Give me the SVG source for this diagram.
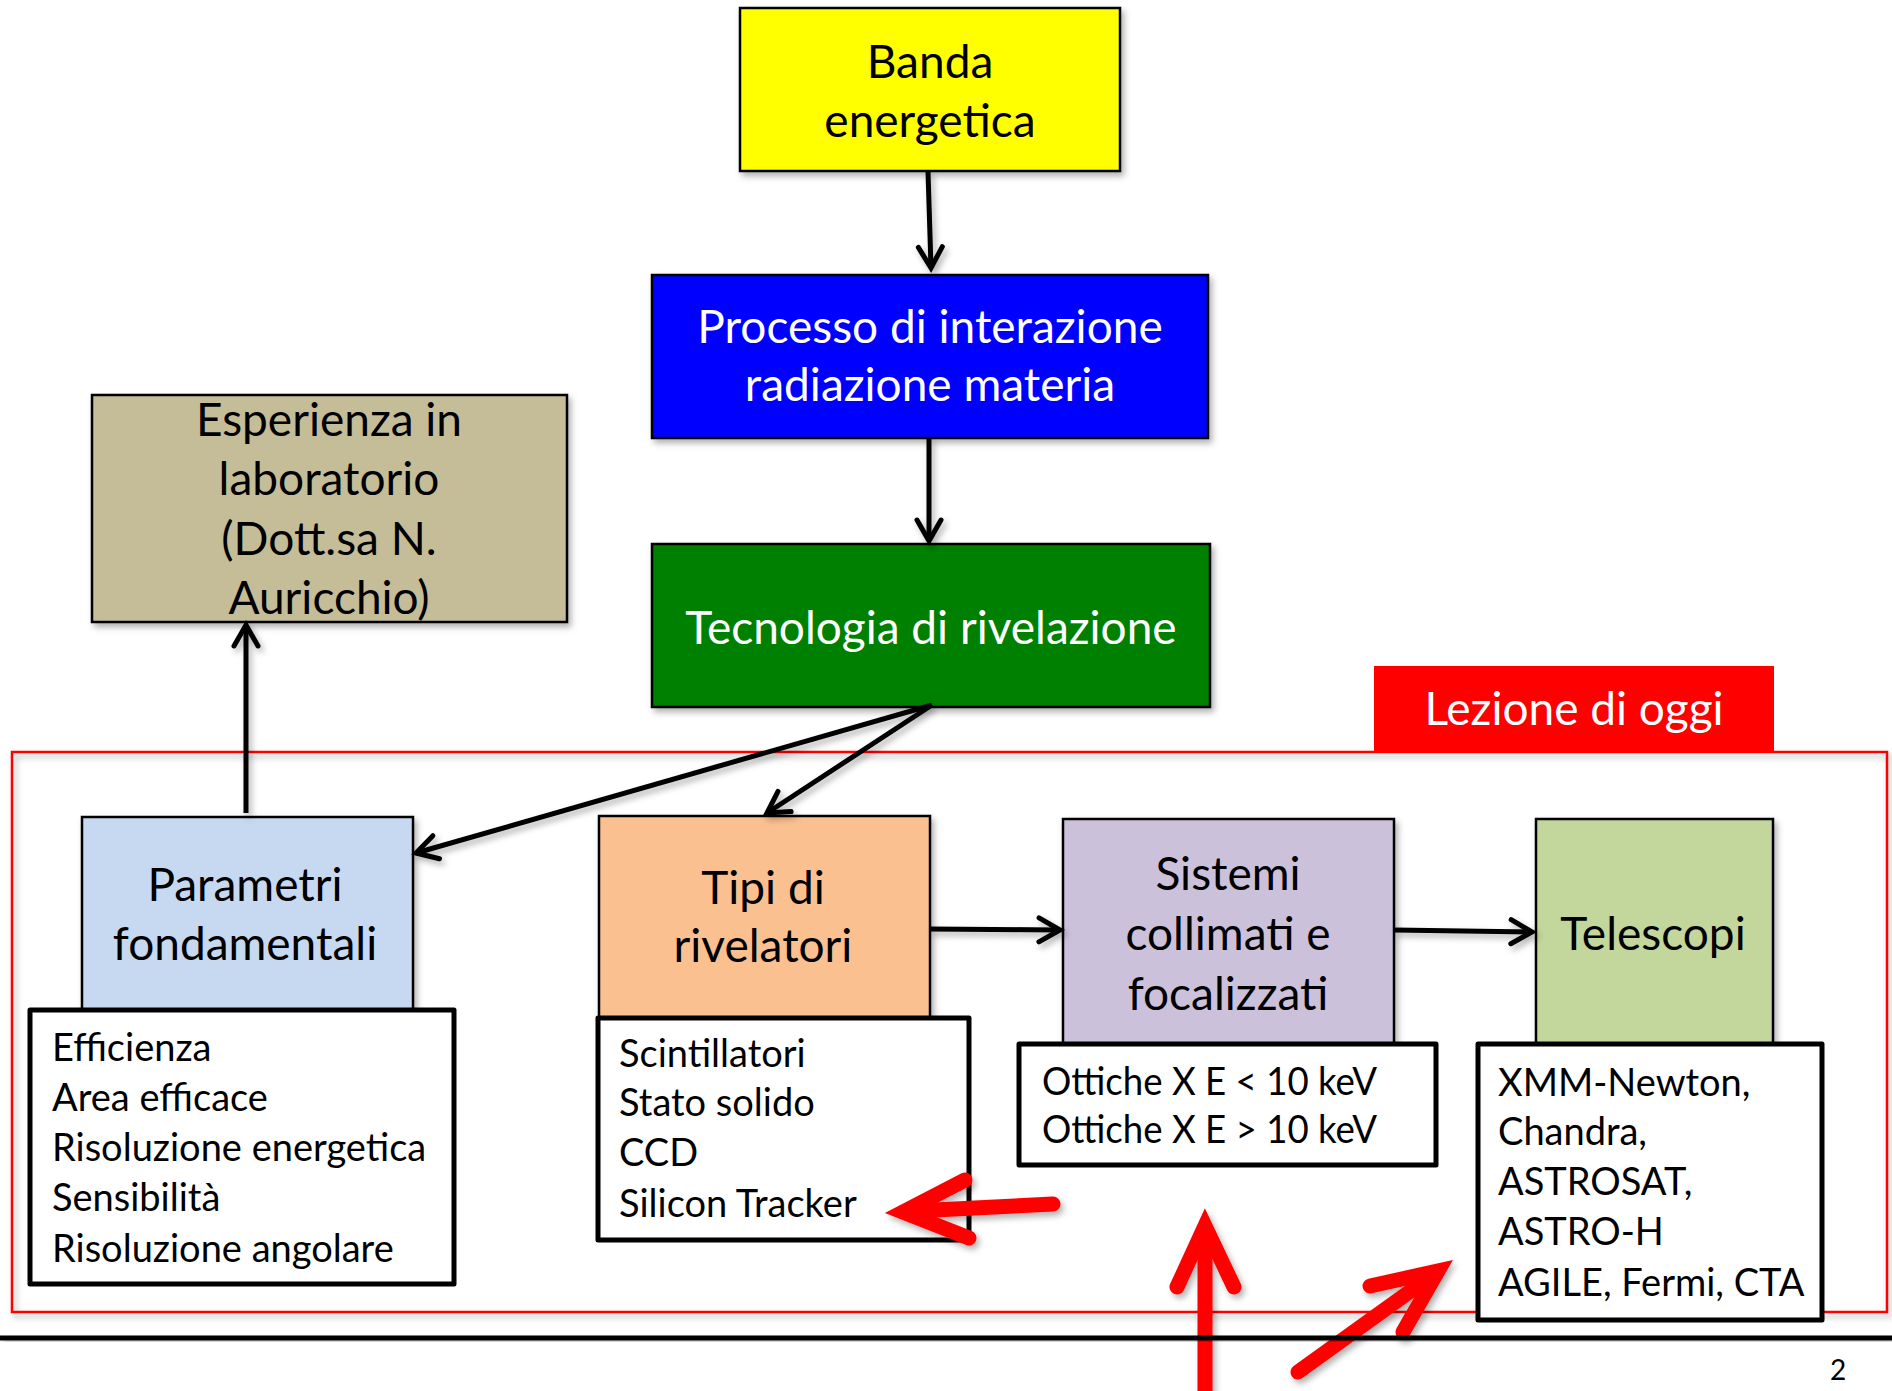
<svg xmlns="http://www.w3.org/2000/svg" width="1892" height="1391" viewBox="0 0 1892 1391">
  <style>
    .box { stroke: #000; stroke-width: 2.5; }
    .list { fill: #fff; stroke: #000; stroke-width: 5; stroke-linejoin: round; }
    .t { font-family: Lato, "Open Sans", "Liberation Sans", sans-serif; font-size: 46px; text-anchor: middle; fill: #000; }
    .w { fill: #fff; }
    .l { font-family: Lato, "Open Sans", "Liberation Sans", sans-serif; font-size: 38px; fill: #000; }
    .conn { fill: none; stroke: #000; stroke-width: 5; marker-end: url(#ah); }
    .red { fill: none; stroke: #ff0000; stroke-width: 15; stroke-linecap: round; stroke-linejoin: miter; }
  </style>
  <defs>
    <filter id="sh" x="-10%" y="-10%" width="130%" height="130%">
      <feDropShadow dx="3" dy="4" stdDeviation="3" flood-color="#000" flood-opacity="0.3"/>
    </filter>
    <marker id="ah" markerUnits="userSpaceOnUse" viewBox="-30 -20 40 40" markerWidth="40" markerHeight="40" refX="0" refY="0" orient="auto" overflow="visible">
      <path d="M-21,-12 L0,0 L-21,12" fill="none" stroke="#000" stroke-width="5" stroke-linecap="round" stroke-linejoin="miter"/>
    </marker>
  </defs>
  <rect width="1892" height="1391" fill="#fff"/>

  <!-- Lezione di oggi frame -->
  <g id="lezione-di-oggi">
    <rect x="12" y="752" width="1875" height="560" fill="none" stroke="#ff0000" stroke-width="2.5" filter="url(#sh)"/>
    <rect x="1374" y="666" width="400" height="87" fill="#ff0000"/>
    <text class="t w" x="1574" y="725">Lezione di oggi</text>
  </g>

  <g id="banda-energetica">
    <rect class="box" x="740" y="8" width="380" height="163" fill="#ffff00" filter="url(#sh)"/>
    <text class="t" x="930" y="78">Banda</text>
    <text class="t" x="930" y="137">energetica</text>
  </g>

  <g id="processo-interazione">
    <rect class="box" x="652" y="275" width="556" height="163" fill="#0000ff" filter="url(#sh)"/>
    <text class="t w" x="930" y="343">Processo di interazione</text>
    <text class="t w" x="930" y="401">radiazione materia</text>
  </g>

  <g id="tecnologia-rivelazione">
    <rect class="box" x="652" y="544" width="558" height="163" fill="#008000" filter="url(#sh)"/>
    <text class="t w" x="931" y="644">Tecnologia di rivelazione</text>
  </g>

  <g id="esperienza-laboratorio">
    <rect class="box" x="92" y="395" width="475" height="227" fill="#c4bd97" filter="url(#sh)"/>
    <text class="t" x="329" y="436">Esperienza in</text>
    <text class="t" x="329" y="495">laboratorio</text>
    <text class="t" x="329" y="555">(Dott.sa N.</text>
    <text class="t" x="329" y="614">Auricchio)</text>
  </g>

  <g id="parametri-fondamentali">
    <rect class="box" x="82" y="817" width="331" height="200" fill="#c6d9f1" filter="url(#sh)"/>
    <text class="t" x="245" y="901">Parametri</text>
    <text class="t" x="245" y="960">fondamentali</text>
  </g>

  <g id="tipi-rivelatori">
    <rect class="box" x="599" y="816" width="331" height="210" fill="#fac090" filter="url(#sh)"/>
    <text class="t" x="763" y="904">Tipi di</text>
    <text class="t" x="763" y="962">rivelatori</text>
  </g>

  <g id="sistemi-collimati">
    <rect class="box" x="1063" y="819" width="331" height="232" fill="#ccc1da" filter="url(#sh)"/>
    <text class="t" x="1228" y="890">Sistemi</text>
    <text class="t" x="1228" y="950">collimati e</text>
    <text class="t" x="1228" y="1010">focalizzati</text>
  </g>

  <g id="telescopi">
    <rect class="box" x="1536" y="819" width="237" height="232" fill="#c3d69b" filter="url(#sh)"/>
    <text class="t" x="1653" y="950">Telescopi</text>
  </g>

  <g id="parametri-lista">
    <rect class="list" x="30" y="1010" width="424" height="274"/>
    <text class="l" x="52" y="1061">Efficienza</text>
    <text class="l" x="52" y="1111">Area efficace</text>
    <text class="l" x="52" y="1161">Risoluzione energetica</text>
    <text class="l" x="52" y="1211">Sensibilità</text>
    <text class="l" x="52" y="1262">Risoluzione angolare</text>
  </g>

  <g id="rivelatori-lista">
    <rect class="list" x="598" y="1018" width="371" height="222"/>
    <text class="l" x="619" y="1067">Scintillatori</text>
    <text class="l" x="619" y="1116">Stato solido</text>
    <text class="l" x="619" y="1166">CCD</text>
    <text class="l" x="619" y="1217">Silicon Tracker</text>
  </g>

  <g id="ottiche-lista">
    <rect class="list" x="1019" y="1044" width="417" height="121"/>
    <text class="l" x="1042" y="1095" textLength="335" lengthAdjust="spacingAndGlyphs">Ottiche X E &lt; 10 keV</text>
    <text class="l" x="1042" y="1143" textLength="335" lengthAdjust="spacingAndGlyphs">Ottiche X E &gt; 10 keV</text>
  </g>

  <g id="telescopi-lista">
    <rect class="list" x="1478" y="1044" width="344" height="276"/>
    <text class="l" x="1498" y="1096">XMM-Newton,</text>
    <text class="l" x="1498" y="1145">Chandra,</text>
    <text class="l" x="1498" y="1195">ASTROSAT,</text>
    <text class="l" x="1498" y="1245">ASTRO-H</text>
    <text class="l" x="1498" y="1296">AGILE, Fermi, CTA</text>
  </g>

  <g id="connectors" filter="url(#sh)">
    <path class="conn" d="M928,171 L931,268"/>
    <path class="conn" d="M929,438 L929,541"/>
    <path class="conn" d="M932,705 L416,853"/>
    <path class="conn" d="M932,705 L767,813"/>
    <path class="conn" d="M246,813 L246,625"/>
    <path class="conn" d="M930,929 L1060,930"/>
    <path class="conn" d="M1394,930 L1532,932"/>
  </g>

  <g id="red-arrows" filter="url(#sh)">
    <path class="red" d="M1053,1204 L914,1211"/>
    <path class="red" d="M965,1180 L903,1212 L969,1238"/>
    <path class="red" d="M1205,1391 L1205,1239"/>
    <path class="red" d="M1177,1287 L1205,1226 L1234,1287"/>
    <path class="red" d="M1298,1372 L1430,1277"/>
    <path class="red" d="M1370,1286 L1438,1271 L1403,1332"/>
  </g>

  <rect x="0" y="1335.5" width="1892" height="5" fill="#000" filter="url(#sh)"/>
  <text x="1838" y="1380" font-family="Lato, 'Liberation Sans', sans-serif" font-size="28" text-anchor="middle" fill="#000">2</text>
</svg>
